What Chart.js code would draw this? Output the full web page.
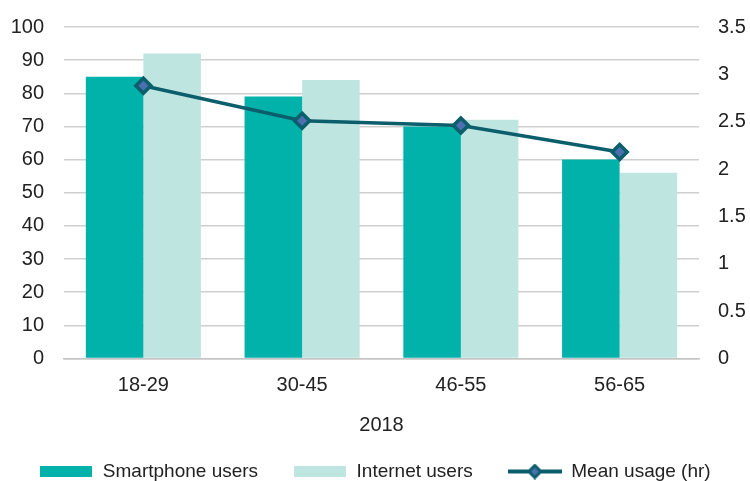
<!DOCTYPE html>
<html>
<head>
<meta charset="utf-8">
<script src="https://cdn.jsdelivr.net/npm/chart.js@4/dist/chart.umd.min.js"></script>
<style>
  html, body { margin: 0; padding: 0; background: #fff; overflow: hidden; }
  #wrap { position: relative; width: 750px; height: 491px; }
</style>
</head>
<body>
<div id="wrap"><canvas id="usageChart"></canvas></div>
<script>
const ageGroups = ['18-29', '30-45', '46-55', '56-65'];
const smartphoneUsers = [85, 79, 70, 60];
const internetUsers = [92, 84, 72, 56];
const meanUsage = [2.88, 2.51, 2.46, 2.18];
const leftTicks = [0, 100, 10];
const rightTicks = [0, 3.5, 0.5];

const teal = '#00b2a9';
const paleTeal = '#bfe5e1';
const darkTeal = '#0b5e6b';
const markerBlue = '#4c6faf';
const textColor = '#222';
const fontFamily = '"Liberation Sans", Arial, sans-serif';

// legend swatches
function swatch(color) {
    const c = document.createElement('canvas');
    c.width = 52; c.height = 11;
    const g = c.getContext('2d');
    g.fillStyle = color;
    g.fillRect(0, 0, 52, 11);
    return c;
}
function lineSwatch() {
    const c = document.createElement('canvas');
    c.width = 54; c.height = 16;
    const g = c.getContext('2d');
    g.strokeStyle = darkTeal;
    g.lineWidth = 4;
    g.beginPath(); g.moveTo(0, 8); g.lineTo(54, 8); g.stroke();
    g.fillStyle = markerBlue;
    g.lineWidth = 3;
    g.beginPath();
    g.moveTo(27, 2); g.lineTo(33, 8); g.lineTo(27, 14); g.lineTo(21, 8); g.closePath();
    g.fill(); g.stroke();
    return c;
}
const legendStyles = [swatch(teal), swatch(paleTeal), lineSwatch()];

// drop the extra room chart.js keeps above/below the value axes
function fixAxis(width) {
    return function (axis) {
        axis.width = width;
        axis.paddingTop = 0;
        axis.paddingBottom = 0;
    };
}

const ctx = document.getElementById('usageChart').getContext('2d');

const usageData = {
    labels: ageGroups,
    datasets: [{
        type: 'bar',
        label: 'Smartphone users',
        data: smartphoneUsers,
        backgroundColor: teal,
        yAxisID: 'y',
        order: 2
    }, {
        type: 'bar',
        label: 'Internet users',
        data: internetUsers,
        backgroundColor: paleTeal,
        yAxisID: 'y',
        order: 2
    }, {
        type: 'line',
        label: 'Mean usage (hr)',
        data: meanUsage,
        borderColor: darkTeal,
        borderWidth: 3.5,
        pointStyle: 'rectRot',
        pointRadius: 7.5,
        pointBackgroundColor: markerBlue,
        pointBorderColor: darkTeal,
        pointBorderWidth: 3.5,
        tension: 0,
        yAxisID: 'y1',
        order: 0
    }]
};

const usageConfig = {
    type: 'bar',
    data: usageData,
    options: {
        responsive: true,
        maintainAspectRatio: false,
        animation: false,
        datasets: {
            bar: { categoryPercentage: 0.725, barPercentage: 1 }
        },
        layout: { padding: { top: 27, left: 0, right: 0, bottom: 0 } },
        scales: {
            x: {
                grid: { display: false },
                border: { display: true, color: '#c4c4c4', width: 1.5 },
                ticks: { color: textColor, font: { family: fontFamily, size: 20 }, padding: 7 },
                title: {
                    display: true,
                    text: '2018',
                    color: textColor,
                    font: { family: fontFamily, size: 20 },
                    padding: { top: 8.5, bottom: -10 }
                }
            },
            y: {
                position: 'left',
                min: leftTicks[0],
                max: leftTicks[1],
                ticks: {
                    stepSize: leftTicks[2],
                    autoSkip: false,
                    color: textColor,
                    font: { family: fontFamily, size: 20 },
                    padding: 20
                },
                grid: { color: '#cfcfcf', lineWidth: 1.5, drawTicks: false },
                border: { display: false },
                afterFit: fixAxis(64)
            },
            y1: {
                position: 'right',
                min: rightTicks[0],
                max: rightTicks[1],
                ticks: {
                    stepSize: rightTicks[2],
                    autoSkip: false,
                    color: textColor,
                    font: { family: fontFamily, size: 20 },
                    padding: 19,
                    callback: function (v) { return String(v); }
                },
                grid: { display: false, drawTicks: false },
                border: { display: false },
                afterFit: fixAxis(51)
            }
        },
        plugins: {
            tooltip: { enabled: false },
            legend: {
                position: 'bottom',
                labels: {
                    color: textColor,
                    font: { family: fontFamily, size: 19 },
                    usePointStyle: true,
                    pointStyleWidth: 54,
                    padding: 35,
                    generateLabels: function (chart) {
                        return chart.data.datasets.map(function (ds, i) {
                            return {
                                text: ds.label,
                                pointStyle: legendStyles[i],
                                fillStyle: 'transparent',
                                strokeStyle: 'transparent',
                                lineWidth: 0,
                                fontColor: textColor,
                                datasetIndex: i,
                                hidden: false
                            };
                        });
                    }
                }
            }
        }
    }
};

new Chart(ctx, usageConfig);
</script>
</body>
</html>
